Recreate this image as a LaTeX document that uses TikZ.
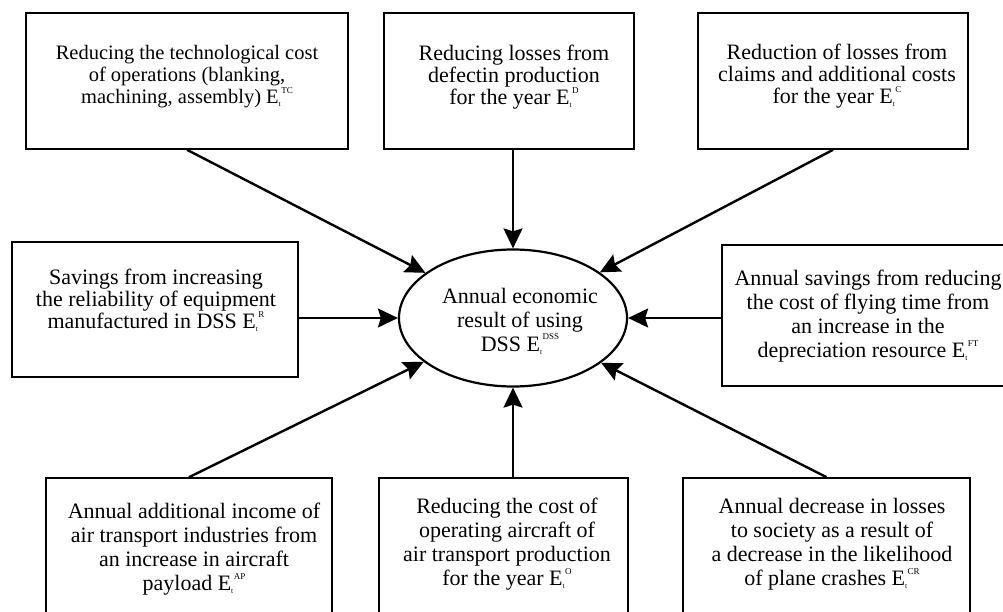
\documentclass[tikz,border=0pt]{standalone}
\usepackage{fontspec}
\setmainfont{Liberation Serif}
\usetikzlibrary{arrows.meta,shapes.geometric}
\newcommand\Et[1]{E\raisebox{-0.3ex}{\fontsize{7.5}{7.5}\selectfont t}\raisebox{1.1ex}{\fontsize{9}{9}\selectfont\kern0.5pt #1}}
\tikzset{
  box/.style={draw, line width=1.6pt, rectangle, inner sep=0pt},
  txt/.style={align=center, inner sep=0pt, font=\fontsize{22}{24}\selectfont},
  txtt/.style={align=center, inner sep=0pt, font=\fontsize{22}{22}\selectfont},
  arr/.style={line width=2.4pt, -{Stealth[length=20pt,width=19pt,inset=3pt]}},
}
\begin{document}
\begin{tikzpicture}[x=1pt,y=-1pt]
\useasboundingbox (0,0) rectangle (1003,612);
\clip (0,0) rectangle (1003,612);
% boxes
\node[box, minimum width=322, minimum height=136] (tl) at (187,81) {};
\node[box, minimum width=250, minimum height=136] (tm) at (509,81) {};
\node[box, minimum width=270, minimum height=136] (tr) at (833,81) {};
\node[box, minimum width=286, minimum height=135] (ml) at (155,309.5) {};
\node[box, minimum width=292, minimum height=141] (mr) at (868,315.5) {};
\node[box, minimum width=286, minimum height=160] (bl) at (189,558) {};
\node[box, minimum width=249, minimum height=160] (bm) at (503.5,558) {};
\node[box, minimum width=287, minimum height=160] (br) at (826.5,558) {};
\node[ellipse, draw, line width=2.2pt, minimum width=228, minimum height=137, inner sep=0pt] (el) at (513,318) {};
% texts
\node[txtt, font=\fontsize{20.5}{22}\selectfont] (tlt) at (187,77) {Reducing the technological cost\\of operations (blanking,\\machining, assembly) \Et{TC}};
\node[txtt] (tmt) at (514,77) {Reducing losses from\\defectin production\\for the year \Et{D}};
\node[txtt] (trt) at (837,76) {Reduction of losses from\\claims and additional costs\\for the year \Et{C}};
\node[txtt] (mlt) at (156,300) {Savings from increasing\\the reliability of equipment\\manufactured in DSS \Et{R}};
\node[txt] (mrt) at (868,316) {Annual savings from reducing\\the cost of flying time from\\an increase in the\\depreciation resource \Et{FT}};
\node[txt] (elt) at (520,321) {Annual economic\\result of using\\DSS \Et{DSS}};
\node[txt] (blt) at (194,549) {Annual additional income of\\air transport industries from\\an increase in aircraft\\payload \Et{AP}};
\node[txt] (bmt) at (507,544) {Reducing the cost of\\operating aircraft of\\air transport production\\for the year \Et{O}};
\node[txt] (brt) at (832,544) {Annual decrease in losses\\to society as a result of\\a decrease in the likelihood\\of plane crashes \Et{CR}};
% connectors
\draw[arr] (tl.south) -- (el);
\draw[arr] (tm.south -| el.center) -- (el);
\draw[arr] (tr.south) -- (el);
\draw[arr] (ml.east |- el.center) -- (el);
\draw[arr] (mr.west |- el.center) -- (el);
\draw[arr] (bl.north) -- (el);
\draw[arr] (bm.north -| el.center) -- (el);
\draw[arr] (br.north) -- (el);
\end{tikzpicture}
\end{document}
